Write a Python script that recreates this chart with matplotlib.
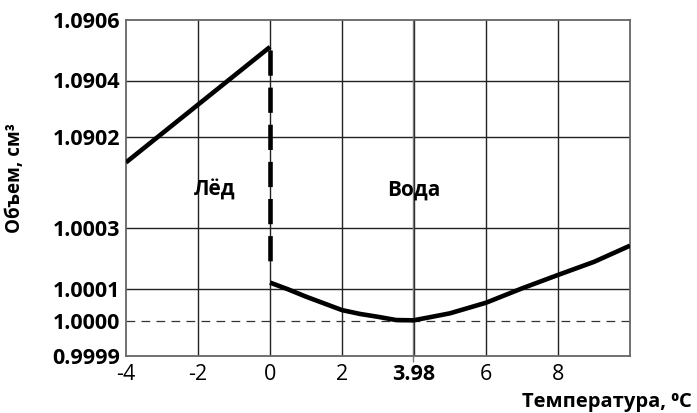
import numpy as np
import matplotlib
matplotlib.use("Agg")
import matplotlib.pyplot as plt

plt.rcParams['font.family'] = ['Open Sans', 'DejaVu Sans']

# --- data ---
ice_t = [-4, 0]
ice_v = [1.09011, 1.09051]
melt_t = [0, 0]
melt_v = [1.0905, 1.00016]
water_t = [0, 0.5, 1, 1.5, 2, 2.5, 3, 3.5, 3.98, 4.5, 5, 6, 7, 8, 9, 10]
water_v = [1.000122, 1.0001, 1.000077, 1.000056, 1.000035, 1.000023,
           1.000014, 1.000004, 1.000003, 1.000014, 1.000025, 1.000058,
           1.000103, 1.000147, 1.00019, 1.000243]

x_ticks = [-4, -2, 0, 2, 3.98, 6, 8]
x_tick_labels = ['-4', '-2', '0', '2', '3.98', '6', '8']
y_ticks = [0.9999, 1.0000, 1.0001, 1.0003, 1.0902, 1.0904, 1.0906]
y_tick_labels = ['0.9999', '1.0000', '1.0001', '1.0003', '1.0902', '1.0904', '1.0906']
x_grid = [-2, 0, 2, 4, 6, 8]
y_grid = [1.0001, 1.0003, 1.0902, 1.0904]

# broken (piecewise) vertical scale control points: value -> relative position
scale_vals = np.array([0.9999, 1.0000, 1.0001, 1.0003, 1.0901, 1.0902, 1.0904, 1.0906])
scale_pos = -np.array([355.7, 321.3, 289.3, 228.3, 165.25, 137.0, 80.5, 19.5])

def fwd(v):
    return np.interp(v, scale_vals, scale_pos)

def inv(s):
    return np.interp(s, scale_pos, scale_vals)

fig = plt.figure(figsize=(6.97, 4.13), dpi=100)
ax = fig.add_axes([126/697, 1-355.7/413, (630-126)/697, (355.7-19.5)/413])
ax.set_yscale('function', functions=(fwd, inv))
ax.set_xlim(-4, 10)
ax.set_ylim(0.9999, 1.0906)

for xg in x_grid:
    ax.axvline(xg, color='#222222', lw=1.0, zorder=1)
for yg in y_grid:
    ax.axhline(yg, color='#222222', lw=1.0, zorder=1)
ax.axvline(3.98, color='#777777', lw=1.0, zorder=1)
ax.axhline(1.0000, color='#333333', lw=0.9, dashes=(7, 5), zorder=1)

ax.plot(ice_t, ice_v, color='black', lw=3.3, solid_capstyle='butt', zorder=3)
ax.plot(melt_t, melt_v, color='black', lw=3.3, dashes=(5.5, 2.6), zorder=3)
ax.plot(water_t, water_v, color='black', lw=3.3, solid_capstyle='butt',
        solid_joinstyle='round', zorder=3)

ax.text(-1.55, 1.0548, 'Лёд', fontsize=15, fontweight='bold', ha='center', va='center')
ax.text(4.0, 1.0548, 'Вода', fontsize=15, fontweight='bold', ha='center', va='center')

for s in ax.spines.values():
    s.set_color('#666666')
    s.set_linewidth(1.3)

ax.set_xticks(x_ticks)
ax.set_xticklabels(x_tick_labels, fontsize=15.5)
ax.set_yticks(y_ticks)
ax.set_yticklabels(y_tick_labels, fontsize=15.5, fontweight='bold')
ax.minorticks_off()
ax.tick_params(axis='y', length=0, pad=4)
ax.tick_params(axis='x', length=4.5, width=1, color='#777777', pad=1.5)
for i, t in enumerate(ax.xaxis.get_major_ticks()):
    if x_tick_labels[i] != '3.98':
        t.tick1line.set_visible(False)
    else:
        t.label1.set_fontweight('bold')

fig.text(15/697, 1-178/413, 'Объем, см³', rotation=90, fontsize=13.5,
         fontweight='bold', ha='center', va='center')
fig.text(692/697, 1-402/413, 'Температура, ⁰C', fontsize=14.5,
         fontweight='bold', ha='right', va='center')

fig.savefig('out.png', dpi=100)
